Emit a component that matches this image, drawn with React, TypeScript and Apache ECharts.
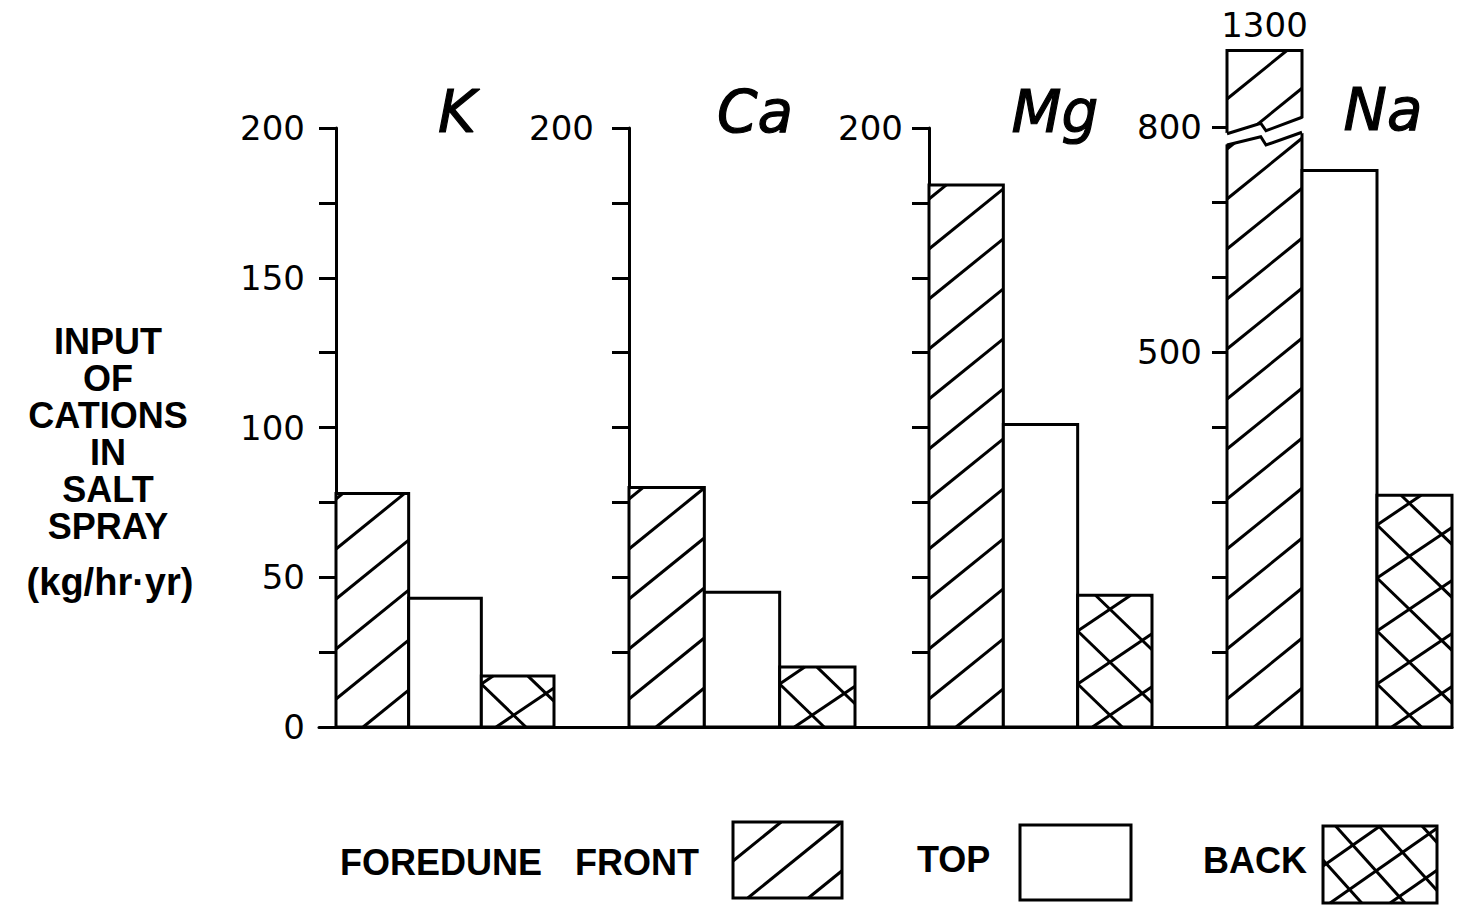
import React, { useEffect, useRef } from 'react';
import * as echarts from 'echarts';

// ---------- data ----------
const panels = ['K', 'Ca', 'Mg', 'Na'];
const positions = ['FRONT', 'TOP', 'BACK'];
const frontValues = [78, 80, 181, 1300];
const topValues = [43, 45, 101, 742];
const backValues = [17, 20, 44, 309];
const axisMax = [200, 200, 200, 800];
const axisInterval = [25, 25, 25, 100];
const tickLabels = [[0, 50, 100, 150, 200], [200], [200], [500, 800]];
const legendLabels = ['FOREDUNE', 'FRONT', 'TOP', 'BACK'];
const yTitle = ['INPUT', 'OF', 'CATIONS', 'IN', 'SALT', 'SPRAY'];
const yUnit = '(kg/hr·yr)';

// ---------- layout / style ----------
const panelLayout = [
  { left: 336, top: 128, width: 218, height: 599, labelMargin: 31, tickLen: 17 },
  { left: 629, top: 128, width: 226, height: 599, labelMargin: 35, tickLen: 17 },
  { left: 929, top: 128, width: 223, height: 599, labelMargin: 26, tickLen: 17 },
  { left: 1227, top: 127, width: 225, height: 600, labelMargin: 25, tickLen: 15 },
];
const titlePos = [
  { x: 457, y: 112 },
  { x: 755, y: 112 },
  { x: 1055, y: 112 },
  { x: 1383, y: 110 },
];
const BLACK = '#000';
const LW = 3;
// broken-bar drawing (value units on the Na axis)
const BREAK_DISPLAY_TOP = 902;
const BREAK_U = [0, 0.45, 0.52, 1];
const BREAK_UPPER = [791, 805, 795, 813];
const BREAK_LOWER = [776, 787, 776, 793];

type HatchFamily = { angle: number; dir: number; spacing: number; phase: number };
const patterns: HatchFamily[][] = [
  [{ angle: 39, dir: 1, spacing: 50, phase: 22 }],
  [],
  [
    { angle: 34, dir: 1, spacing: 53, phase: 10 },
    { angle: 44, dir: -1, spacing: 53, phase: 10 },
  ],
];
const legendPatterns: HatchFamily[][] = [
  [{ angle: 39, dir: 1, spacing: 49, phase: 12 }],
  [],
  [
    { angle: 35, dir: 1, spacing: 42, phase: 5 },
    { angle: 48, dir: -1, spacing: 48, phase: 5 },
  ],
];

function hatch(x0: number, y0: number, w: number, h: number, f: HatchFamily, yRef: number) {
  const t = Math.tan((f.angle * Math.PI) / 180);
  const segs: number[][] = [];
  let cMin: number, cMax: number;
  if (f.dir > 0) {
    cMin = y0;
    cMax = y0 + h + w * t;
  } else {
    cMin = y0 - w * t;
    cMax = y0 + h;
  }
  const kStart = Math.ceil((cMin - yRef - f.phase) / f.spacing);
  const kEnd = Math.floor((cMax - yRef - f.phase) / f.spacing);
  for (let k = kStart; k <= kEnd; k++) {
    const c = yRef + f.phase + k * f.spacing;
    let lo: number, hi: number;
    if (f.dir > 0) {
      lo = Math.max(0, (c - y0 - h) / t);
      hi = Math.min(w, (c - y0) / t);
    } else {
      lo = Math.max(0, (y0 - c) / t);
      hi = Math.min(w, (y0 + h - c) / t);
    }
    if (hi - lo > 0.5) {
      const ya = f.dir > 0 ? c - lo * t : c + lo * t;
      const yb = f.dir > 0 ? c - hi * t : c + hi * t;
      segs.push([x0 + lo, ya, x0 + hi, yb]);
    }
  }
  return segs;
}

function hatchedBox(x0: number, y0: number, w: number, h: number, fams: HatchFamily[], yRef: number) {
  const els: any[] = [];
  els.push({ type: 'rect', shape: { x: x0, y: y0, width: w, height: h }, style: { fill: '#fff', stroke: 'none' } });
  fams.forEach((f) => {
    hatch(x0, y0, w, h, f, yRef).forEach((s) => {
      els.push({
        type: 'line',
        shape: { x1: s[0], y1: s[1], x2: s[2], y2: s[3] },
        style: { stroke: BLACK, lineWidth: LW, lineCap: 'butt' },
      });
    });
  });
  els.push({
    type: 'rect',
    shape: { x: x0, y: y0, width: w, height: h },
    style: { fill: 'none', stroke: BLACK, lineWidth: LW, lineJoin: 'miter' },
  });
  return els;
}

function makeRenderItem(p: number) {
  return (params: any, api: any) => {
    const ci = api.value(0);
    const v = api.value(1);
    const pat = api.value(2);
    const broken = v > axisMax[p];
    const shown = broken ? BREAK_DISPLAY_TOP : v;
    const base = api.coord([ci, 0]);
    const top = api.coord([ci, shown]);
    const w = api.size([1, 0])[0];
    const x0 = base[0] - w / 2;
    const y0 = top[1];
    const h = base[1] - top[1];
    const children: any[] = hatchedBox(x0, y0, w, h, patterns[pat], base[1]);
    if (broken) {
      const upper = BREAK_U.map((u, i) => [x0 + u * w, api.coord([ci, BREAK_UPPER[i]])[1]]);
      const lower = BREAK_U.map((u, i) => [x0 + u * w, api.coord([ci, BREAK_LOWER[i]])[1]]);
      const poly = [
        [upper[0][0] - 4, upper[0][1]],
        ...upper.slice(1, -1),
        [upper[3][0] + 4, upper[3][1]],
        [lower[3][0] + 4, lower[3][1]],
        ...lower.slice(1, -1).reverse(),
        [lower[0][0] - 4, lower[0][1]],
      ];
      children.push({ type: 'polygon', shape: { points: poly }, style: { fill: '#fff', stroke: 'none' } });
      children.push({ type: 'polyline', shape: { points: upper }, style: { stroke: BLACK, lineWidth: LW, fill: 'none' } });
      children.push({ type: 'polyline', shape: { points: lower }, style: { stroke: BLACK, lineWidth: LW, fill: 'none' } });
      children.push({
        type: 'text',
        style: {
          text: String(v),
          x: x0 + w / 2,
          y: y0 - 9,
          align: 'center',
          verticalAlign: 'bottom',
          textAlign: 'center',
          textVerticalAlign: 'bottom',
          font: '34px "DejaVu Sans"',
          fill: BLACK,
        },
      });
    }
    return { type: 'group', children };
  };
}

function buildOption() {
  const valuesByPos = [frontValues, topValues, backValues];
  const grids: any[] = panelLayout.map((g) => ({ left: g.left, top: g.top, width: g.width, height: g.height }));
  grids.push({ left: 319, top: 726, width: 1133, height: 1 });

  const xAxes: any[] = panels.map((_, p) => ({
    type: 'category',
    gridIndex: p,
    data: positions,
    show: false,
  }));
  xAxes.push({
    type: 'value',
    gridIndex: 4,
    min: 0,
    max: 1,
    axisLine: { show: true, onZero: false, lineStyle: { color: BLACK, width: LW } },
    axisTick: { show: false },
    axisLabel: { show: false },
    splitLine: { show: false },
  });

  const yAxes: any[] = panels.map((_, p) => ({
    type: 'value',
    gridIndex: p,
    min: 0,
    max: axisMax[p],
    interval: axisInterval[p],
    axisLine: { show: true, lineStyle: { color: BLACK, width: LW } },
    axisTick: { show: true, length: panelLayout[p].tickLen, lineStyle: { color: BLACK, width: LW } },
    axisLabel: {
      show: true,
      margin: panelLayout[p].labelMargin,
      color: BLACK,
      fontSize: 34,
      fontFamily: 'DejaVu Sans',
      formatter: (val: number) => (tickLabels[p].indexOf(val) >= 0 ? String(val) : ''),
    },
    splitLine: { show: false },
  }));
  yAxes.push({ type: 'value', gridIndex: 4, show: false, min: 0, max: 1 });

  const series: any[] = panels.map((name, p) => ({
    type: 'custom',
    name,
    xAxisIndex: p,
    yAxisIndex: p,
    clip: false,
    silent: true,
    renderItem: makeRenderItem(p),
    data: positions.map((_, i) => [i, valuesByPos[i][p], i]),
  }));

  const graphics: any[] = [];
  panels.forEach((name, p) => {
    graphics.push({
      type: 'text',
      x: titlePos[p].x,
      y: titlePos[p].y,
      style: {
        text: name,
        font: 'italic 58px "DejaVu Sans"',
        fill: BLACK,
        stroke: BLACK,
        lineWidth: 1.2,
        align: 'center',
        verticalAlign: 'middle',
        textAlign: 'center',
        textVerticalAlign: 'middle',
      },
    });
  });
  graphics.push({
    type: 'text',
    x: 108,
    y: 434,
    style: {
      text: yTitle.join('\n'),
      font: 'bold 36px "Liberation Sans"',
      lineHeight: 37,
      fill: BLACK,
      align: 'center',
      verticalAlign: 'middle',
      textAlign: 'center',
      textVerticalAlign: 'middle',
    },
  });
  graphics.push({
    type: 'text',
    x: 110,
    y: 582,
    style: {
      text: yUnit,
      font: 'bold 38px "Liberation Sans"',
      fill: BLACK,
      align: 'center',
      verticalAlign: 'middle',
      textAlign: 'center',
      textVerticalAlign: 'middle',
    },
  });

  const legendText = [
    { x: 340, y: 862 },
    { x: 575, y: 862 },
    { x: 917, y: 859 },
    { x: 1203, y: 860 },
  ];
  legendLabels.forEach((t, i) => {
    graphics.push({
      type: 'text',
      x: legendText[i].x,
      y: legendText[i].y,
      style: {
        text: t,
        font: 'bold 36px "Liberation Sans"',
        fill: BLACK,
        align: 'left',
        verticalAlign: 'middle',
        textAlign: 'left',
        textVerticalAlign: 'middle',
      },
    });
  });
  const legendBoxes = [
    { x: 733, y: 822, w: 109, h: 76 },
    { x: 1020, y: 825, w: 111, h: 75 },
    { x: 1323, y: 826, w: 114, h: 77 },
  ];
  legendBoxes.forEach((b, i) => {
    hatchedBox(b.x, b.y, b.w, b.h, legendPatterns[i], b.y + b.h).forEach((el) => graphics.push(el));
  });

  return {
    animation: false,
    backgroundColor: '#fff',
    grid: grids,
    xAxis: xAxes,
    yAxis: yAxes,
    series,
    graphic: { elements: graphics },
  };
}

export default function App() {
  const ref = useRef<HTMLDivElement>(null);
  useEffect(() => {
    if (!ref.current) return;
    const chart = echarts.init(ref.current, null, { renderer: 'svg' });
    chart.setOption(buildOption());
    return () => chart.dispose();
  }, []);
  return (
    <div
      ref={ref}
      style={{ position: 'fixed', left: 0, top: 0, width: 1461, height: 909, background: '#fff' }}
    />
  );
}
